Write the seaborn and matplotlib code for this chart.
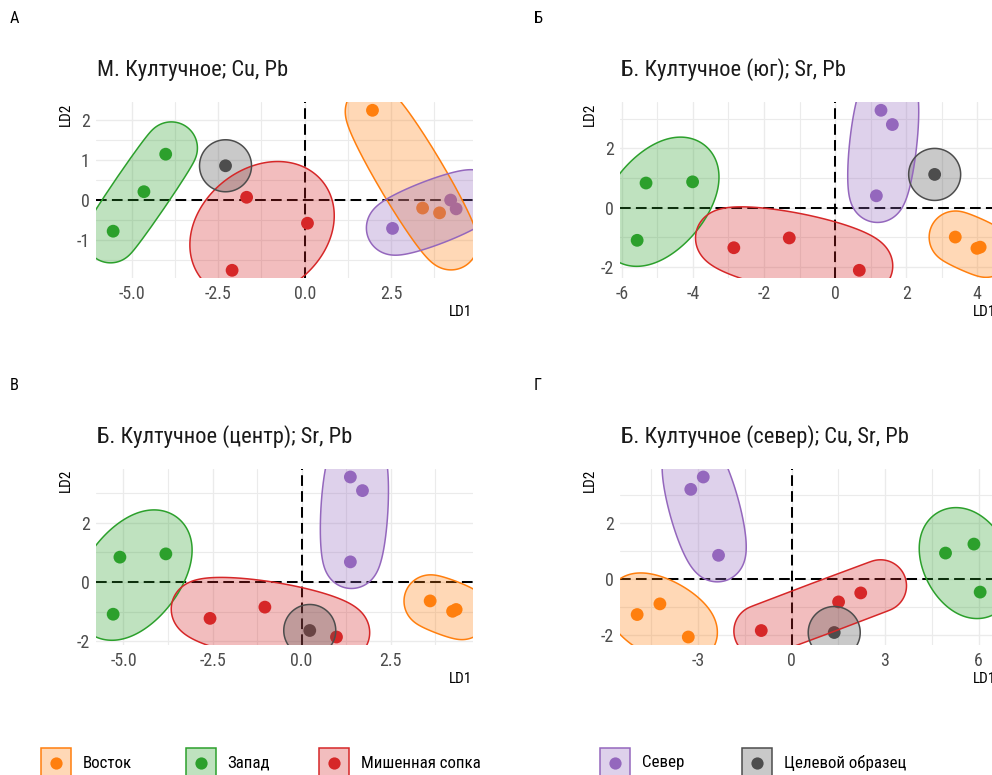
import numpy as np
import pandas as pd
import matplotlib
matplotlib.use("Agg")
import matplotlib.pyplot as plt
from matplotlib import font_manager as fm
from matplotlib.patches import Polygon, Rectangle
from matplotlib.lines import Line2D
import seaborn as sns

# ---------------------------------------------------------------- data
groups = ["Восток", "Запад", "Мишенная сопка", "Север", "Целевой образец"]
colors = ["#FF7F0E", "#2CA02C", "#D62728", "#9467BD", "#4D4D4D"]

titles = [
    "М. Култучное; Cu, Pb",
    "Б. Култучное (юг); Sr, Pb",
    "Б. Култучное (центр); Sr, Pb",
    "Б. Култучное (север); Cu, Sr, Pb",
]
tags = ["А", "Б", "В", "Г"]

# panel А
a_east_x, a_east_y = [1.96, 3.41, 3.90], [2.24, -0.21, -0.33]
a_west_x, a_west_y = [-5.54, -4.65, -4.02], [-0.79, 0.20, 1.14]
a_mish_x, a_mish_y = [-1.68, 0.08, -2.10], [0.06, -0.59, -1.77]
a_north_x, a_north_y = [2.54, 4.22, 4.38], [-0.72, -0.01, -0.23]
a_target_x, a_target_y = [-2.29], [0.85]

# panel Б
b_east_x, b_east_y = [3.38, 3.99, 4.08], [-0.99, -1.37, -1.33]
b_west_x, b_west_y = [-5.32, -4.01, -5.57], [0.83, 0.87, -1.10]
b_mish_x, b_mish_y = [-2.85, -1.29, 0.68], [-1.35, -1.02, -2.11]
b_north_x, b_north_y = [1.29, 1.61, 1.16], [3.28, 2.80, 0.40]
b_target_x, b_target_y = [2.80], [1.12]

# panel В
c_east_x, c_east_y = [3.61, 4.24, 4.34], [-0.64, -0.99, -0.93]
c_west_x, c_west_y = [-5.10, -3.81, -5.29], [0.84, 0.95, -1.09]
c_mish_x, c_mish_y = [-2.57, -1.03, 0.98], [-1.23, -0.85, -1.86]
c_north_x, c_north_y = [1.37, 1.71, 1.37], [3.55, 3.09, 0.68]
c_target_x, c_target_y = [0.23], [-1.64]

# panel Г
d_east_x, d_east_y = [-4.95, -4.22, -3.31], [-1.26, -0.88, -2.06]
d_west_x, d_west_y = [4.94, 5.85, 6.05], [0.93, 1.25, -0.46]
d_mish_x, d_mish_y = [-0.97, 1.51, 2.22], [-1.83, -0.81, -0.49]
d_north_x, d_north_y = [-3.23, -2.83, -2.34], [3.20, 3.64, 0.85]
d_target_x, d_target_y = [1.37], [-1.90]

x_ticks = [[-5.0, -2.5, 0.0, 2.5], [-6, -4, -2, 0, 2, 4],
           [-5.0, -2.5, 0.0, 2.5], [-3, 0, 3, 6]]
x_tick_labels = [["-5.0", "-2.5", "0.0", "2.5"], ["-6", "-4", "-2", "0", "2", "4"],
                 ["-5.0", "-2.5", "0.0", "2.5"], ["-3", "0", "3", "6"]]
y_ticks = [[-1, 0, 1, 2], [-2, 0, 2], [-2, 0, 2], [-2, 0, 2]]
y_tick_labels = [["-1", "0", "1", "2"], ["-2", "0", "2"], ["-2", "0", "2"], ["-2", "0", "2"]]

panel_data = [
    [(a_east_x, a_east_y), (a_west_x, a_west_y), (a_mish_x, a_mish_y),
     (a_north_x, a_north_y), (a_target_x, a_target_y)],
    [(b_east_x, b_east_y), (b_west_x, b_west_y), (b_mish_x, b_mish_y),
     (b_north_x, b_north_y), (b_target_x, b_target_y)],
    [(c_east_x, c_east_y), (c_west_x, c_west_y), (c_mish_x, c_mish_y),
     (c_north_x, c_north_y), (c_target_x, c_target_y)],
    [(d_east_x, d_east_y), (d_west_x, d_west_y), (d_mish_x, d_mish_y),
     (d_north_x, d_north_y), (d_target_x, d_target_y)],
]

# ---------------------------------------------------------------- style
sns.set_theme(style="white")
names = {f.name for f in fm.fontManager.ttflist}
if "Roboto Condensed" in names:
    family = "Roboto Condensed"
elif "Liberation Sans Narrow" in names:
    family = "Liberation Sans Narrow"
else:
    family = "Roboto"
plt.rcParams["font.family"] = [family, "DejaVu Sans"]
plt.rcParams["axes.unicode_minus"] = False

W, H = 992, 775
DPI = 100
fig = plt.figure(figsize=(W / DPI, H / DPI), dpi=DPI)
fig.patch.set_facecolor("white")


def ftxt(x, y, s, **kw):
    """Text placed in figure pixel coordinates (origin top-left)."""
    return fig.text(x / W, 1 - y / H, s, **kw)


def mark_ellipse(pts_px, expand, n=360):
    """Minimum-area enclosing ellipse of the points, grown outward by `expand` px."""
    P = np.asarray(pts_px, dtype=float)
    c = P.mean(axis=0)
    if len(P) == 1:
        S = np.zeros((2, 2))
    elif len(P) == 3:
        D = P - c
        S = (2.0 / 3.0) * D.T @ D
    else:
        # Khachiyan iterations for the general case
        N = len(P)
        Q = np.vstack([P.T, np.ones(N)])
        u = np.ones(N) / N
        for _ in range(2000):
            X = Q @ np.diag(u) @ Q.T
            M = np.einsum("ij,ji->i", Q.T @ np.linalg.inv(X), Q)
            j = np.argmax(M)
            step = (M[j] - 3) / (3 * (M[j] - 1))
            nu = (1 - step) * u
            nu[j] += step
            if np.linalg.norm(nu - u) < 1e-6:
                u = nu
                break
            u = nu
        c = P.T @ u
        S = 2 * (P.T @ np.diag(u) @ P - np.outer(c, c))
    w, V = np.linalg.eigh(S)
    a2 = np.clip(w, 0, None)
    # sample by direction of the outward normal: smooth even for thin ellipses
    phi = np.linspace(0, 2 * np.pi, n, endpoint=False)
    cph, sph = np.cos(phi), np.sin(phi)
    denom = np.sqrt(a2[0] * cph ** 2 + a2[1] * sph ** 2) + 1e-12
    local = np.vstack([a2[0] * cph / denom, a2[1] * sph / denom])
    out = local + expand * np.vstack([cph, sph])
    return (V @ out).T + c


# layout (pixels)
offsets = [(0, 0), (524, 0), (0, 366.7), (524, 366.7)]
PL, PT, PW, PH = 96, 102.3, 377.3, 176
EXPAND = 26
tick_color = "#4D4D4D"
grid_color = "#EBEBEB"

for k in range(4):
    ox, oy = offsets[k]
    left, top = PL + ox, PT + oy
    ax = fig.add_axes([left / W, 1 - (top + PH) / H, PW / W, PH / H])

    frames = []
    for g, (xs, ys) in zip(groups, panel_data[k]):
        frames.append(pd.DataFrame({"LD1": xs, "LD2": ys, "group": g}))
    df = pd.concat(frames, ignore_index=True)
    df["group"] = pd.Categorical(df["group"], categories=groups)

    # limits: data range widened by 5 % on each side
    xr = df["LD1"].max() - df["LD1"].min()
    yr = df["LD2"].max() - df["LD2"].min()
    xlim = (df["LD1"].min() - 0.05 * xr, df["LD1"].max() + 0.05 * xr)
    ylim = (df["LD2"].min() - 0.05 * yr, df["LD2"].max() + 0.05 * yr)

    xt = np.array(x_ticks[k], dtype=float)
    yt = np.array(y_ticks[k], dtype=float)
    ax.set_xticks(xt, x_tick_labels[k])
    ax.set_yticks(yt, y_tick_labels[k])
    dx, dy = xt[1] - xt[0], yt[1] - yt[0]
    ax.set_xticks(np.arange(xt[0] - 1.5 * dx, xt[-1] + 2 * dx, dx), minor=True)
    ax.set_yticks(np.arange(yt[0] - 1.5 * dy, yt[-1] + 2 * dy, dy), minor=True)
    ax.set_xlim(*xlim)
    ax.set_ylim(*ylim)

    ax.grid(which="major", color=grid_color, linewidth=1.0, zorder=0)
    ax.grid(which="minor", color=grid_color, linewidth=0.8, zorder=0)
    ax.set_axisbelow(True)
    for sp in ax.spines.values():
        sp.set_visible(False)
    ax.tick_params(which="both", length=0)
    ax.tick_params(axis="x", pad=5.0, labelsize=12.9, labelcolor=tick_color)
    ax.tick_params(axis="y", pad=4.6, labelsize=12.9, labelcolor=tick_color)

    ax.axhline(0, color="black", linewidth=1.45, linestyle=(0, (5.3, 2.6)), zorder=1)
    ax.axvline(0, color="black", linewidth=1.45, linestyle=(0, (5.3, 2.6)), zorder=1)

    sns.scatterplot(data=df, x="LD1", y="LD2", hue="group", hue_order=groups,
                    palette=colors, s=85, linewidth=0, legend=False, ax=ax, zorder=3)
    ax.set_xlabel("")
    ax.set_ylabel("")
    ax.set_xlim(*xlim)
    ax.set_ylim(*ylim)

    # group hulls, computed in pixel space so that they look the same on screen
    for g, col in zip(groups, colors):
        sub = df[df["group"] == g]
        pts_px = ax.transData.transform(sub[["LD1", "LD2"]].to_numpy())
        outline = ax.transData.inverted().transform(mark_ellipse(pts_px, EXPAND))
        ax.add_patch(Polygon(outline, closed=True, facecolor=col, alpha=0.3,
                             edgecolor="none", zorder=4))
        ax.add_patch(Polygon(outline, closed=True, facecolor="none",
                             edgecolor=col, linewidth=1.1, zorder=5))

    ftxt(10 + ox, 23.3 + oy, tags[k], fontsize=11.8, color="black", va="baseline")
    ftxt(97 + ox, 76 + oy, titles[k], fontsize=16.2, color="#1A1A1A", va="baseline")
    ftxt(471.7 + ox, 316 + oy, "LD1", fontsize=11, color="black", ha="right", va="baseline")
    ftxt(65.5 + ox, PT + oy, "LD2", fontsize=11, color="black", rotation=90,
         ha="center", va="top")

# ---------------------------------------------------------------- legend
legend_box_left = [41, 186, 319, 600, 742]
box, ly = 30, 763
for g, col, bx in zip(groups, colors, legend_box_left):
    fig.add_artist(Rectangle((bx / W, 1 - (ly + box / 2) / H), box / W, box / H,
                             transform=fig.transFigure, facecolor=col, alpha=0.3,
                             edgecolor="none"))
    fig.add_artist(Rectangle((bx / W, 1 - (ly + box / 2) / H), box / W, box / H,
                             transform=fig.transFigure, facecolor="none",
                             edgecolor=col, linewidth=1.1))
    fig.add_artist(Line2D([(bx + box / 2) / W], [1 - ly / H], transform=fig.transFigure,
                          marker="o", markersize=8.8, markerfacecolor=col,
                          markeredgewidth=0, linestyle="none"))
    ftxt(bx + 41.7, ly, g, fontsize=12.2, color="black", va="center")

fig.savefig("out.png", dpi=DPI)
